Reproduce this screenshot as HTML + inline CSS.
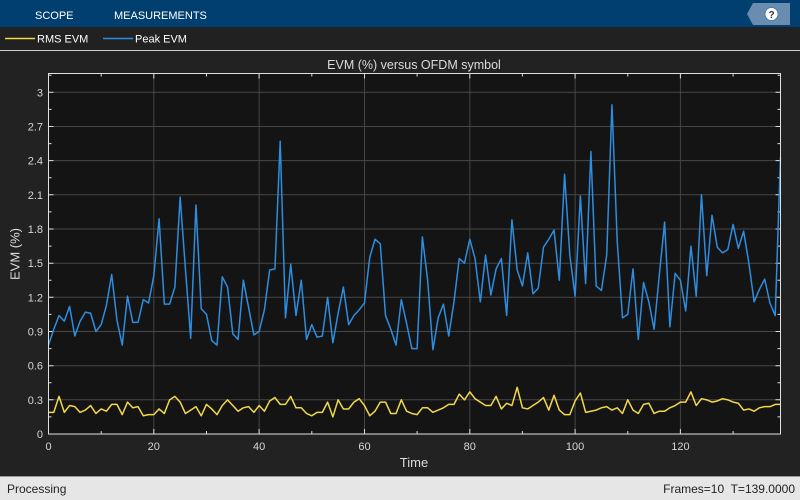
<!DOCTYPE html>
<html><head><meta charset="utf-8"><style>
html,body{margin:0;padding:0;background:#222;}
svg{display:block;font-family:"Liberation Sans",Arial,sans-serif;}
</style></head><body>
<svg width="800" height="500" viewBox="0 0 800 500" xmlns="http://www.w3.org/2000/svg">
<rect x="0" y="0" width="800" height="500" fill="#222222"/>
<rect x="0" y="0" width="800" height="27" fill="#003f6f"/>
<text x="35" y="19" font-size="11" fill="#ffffff">SCOPE</text>
<text x="114" y="19" font-size="11" fill="#ffffff">MEASUREMENTS</text>
<polygon points="747,14 753,3 790,3 790,25 753,25" fill="#6a8cae"/>
<circle cx="771.5" cy="14" r="6.5" fill="#ffffff" stroke="#3a78b8" stroke-width="0.8"/>
<text x="771.5" y="18" font-size="10" font-weight="bold" fill="#333" text-anchor="middle">?</text>
<rect x="0" y="27" width="800" height="23" fill="#212121"/>
<line x1="5" y1="38.5" x2="35" y2="38.5" stroke="#f2d84b" stroke-width="1.5"/>
<text x="37" y="42.5" font-size="11" fill="#ffffff">RMS EVM</text>
<line x1="103" y1="38.5" x2="133" y2="38.5" stroke="#2d8de0" stroke-width="1.5"/>
<text x="135" y="42.5" font-size="11" fill="#ffffff">Peak EVM</text>
<line x1="0" y1="50.5" x2="800" y2="50.5" stroke="#cfcfcf" stroke-width="1"/>
<text x="414" y="69" font-size="12.5" fill="#dcdcdc" text-anchor="middle">EVM (%) versus OFDM symbol</text>
<rect x="48.5" y="73.5" width="732" height="360.5" fill="#141414"/>
<g stroke="#464646" stroke-width="1">
<line x1="153.8" y1="73.5" x2="153.8" y2="434"/>
<line x1="259.1" y1="73.5" x2="259.1" y2="434"/>
<line x1="364.5" y1="73.5" x2="364.5" y2="434"/>
<line x1="469.8" y1="73.5" x2="469.8" y2="434"/>
<line x1="575.1" y1="73.5" x2="575.1" y2="434"/>
<line x1="680.4" y1="73.5" x2="680.4" y2="434"/>
<line x1="48.5" y1="399.8" x2="780.5" y2="399.8"/>
<line x1="48.5" y1="365.7" x2="780.5" y2="365.7"/>
<line x1="48.5" y1="331.5" x2="780.5" y2="331.5"/>
<line x1="48.5" y1="297.3" x2="780.5" y2="297.3"/>
<line x1="48.5" y1="263.2" x2="780.5" y2="263.2"/>
<line x1="48.5" y1="229.0" x2="780.5" y2="229.0"/>
<line x1="48.5" y1="194.8" x2="780.5" y2="194.8"/>
<line x1="48.5" y1="160.6" x2="780.5" y2="160.6"/>
<line x1="48.5" y1="126.5" x2="780.5" y2="126.5"/>
<line x1="48.5" y1="92.3" x2="780.5" y2="92.3"/>
</g>
<g stroke="#dddddd" stroke-width="1">
<path d="M153.8 434v-5M259.1 434v-5M364.5 434v-5M469.8 434v-5M575.1 434v-5M680.4 434v-5"/>
<path d="M101.2 434v-3M206.5 434v-3M311.8 434v-3M417.1 434v-3M522.4 434v-3M627.8 434v-3M733.1 434v-3"/>
<path d="M153.8 73.5v5M259.1 73.5v5M364.5 73.5v5M469.8 73.5v5M575.1 73.5v5M680.4 73.5v5"/>
<path d="M101.2 73.5v3M206.5 73.5v3M311.8 73.5v3M417.1 73.5v3M522.4 73.5v3M627.8 73.5v3M733.1 73.5v3"/>
<path d="M48.5 399.8h5M48.5 365.7h5M48.5 331.5h5M48.5 297.3h5M48.5 263.2h5M48.5 229h5M48.5 194.8h5M48.5 160.6h5M48.5 126.5h5M48.5 92.3h5"/>
<path d="M48.5 416.9h3M48.5 382.7h3M48.5 348.6h3M48.5 314.4h3M48.5 280.2h3M48.5 246.1h3M48.5 211.9h3M48.5 177.7h3M48.5 143.6h3M48.5 109.4h3M48.5 75.2h3"/>
<path d="M780.5 399.8h-5M780.5 365.7h-5M780.5 331.5h-5M780.5 297.3h-5M780.5 263.2h-5M780.5 229h-5M780.5 194.8h-5M780.5 160.6h-5M780.5 126.5h-5M780.5 92.3h-5"/>
<path d="M780.5 416.9h-3M780.5 382.7h-3M780.5 348.6h-3M780.5 314.4h-3M780.5 280.2h-3M780.5 246.1h-3M780.5 211.9h-3M780.5 177.7h-3M780.5 143.6h-3M780.5 109.4h-3M780.5 75.2h-3"/>
</g>
<g transform="translate(48.5,434) scale(5.266,-113.9)" fill="none" stroke-linejoin="round">
<polyline vector-effect="non-scaling-stroke" stroke="#2d8de0" stroke-width="1.5" points="0,0.78 1,0.92 2,1.04 3,0.99 4,1.12 5,0.86 6,0.99 7,1.07 8,1.06 9,0.90 10,0.96 11,1.13 12,1.40 13,1.00 14,0.78 15,1.21 16,0.98 17,0.98 18,1.18 19,1.15 20,1.39 21,1.89 22,1.14 23,1.14 24,1.29 25,2.08 26,1.45 27,0.84 28,2.01 29,1.10 30,1.05 31,0.82 32,0.78 33,1.38 34,1.29 35,0.88 36,0.83 37,1.35 38,1.11 39,0.87 40,0.90 41,1.09 42,1.44 43,1.45 44,2.57 45,1.02 46,1.49 47,1.04 48,1.35 49,0.83 50,0.96 51,0.85 52,0.86 53,1.20 54,0.80 55,1.06 56,1.29 57,0.96 58,1.04 59,1.09 60,1.15 61,1.55 62,1.71 63,1.67 64,1.04 65,0.92 66,0.78 67,1.18 68,0.97 69,0.75 70,0.75 71,1.73 72,1.35 73,0.74 74,1.02 75,1.14 76,0.86 77,1.16 78,1.54 79,1.50 80,1.71 81,1.54 82,1.16 83,1.57 84,1.22 85,1.45 86,1.54 87,1.04 88,1.88 89,1.44 90,1.30 91,1.59 92,1.23 93,1.28 94,1.64 95,1.71 96,1.79 97,1.35 98,2.28 99,1.57 100,1.21 101,2.09 102,1.32 103,2.48 104,1.30 105,1.26 106,1.57 107,2.89 108,1.69 109,1.02 110,1.05 111,1.45 112,0.83 113,1.33 114,1.16 115,0.92 116,1.40 117,1.86 118,0.94 119,1.41 120,1.35 121,1.08 122,1.65 123,1.21 124,2.10 125,1.39 126,1.92 127,1.64 128,1.59 129,1.62 130,1.84 131,1.63 132,1.78 133,1.50 134,1.16 135,1.27 136,1.36 137,1.15 138,1.04 139,2.43"/>
<polyline vector-effect="non-scaling-stroke" stroke="#f2d84b" stroke-width="1.5" points="0,.19 1,.19 2,.33 3,.19 4,.25 5,.24 6,.19 7,.21 8,.25 9,.18 10,.22 11,.20 12,.26 13,.26 14,.17 15,.28 16,.23 17,.24 18,.16 19,.17 20,.17 21,.22 22,.18 23,.30 24,.33 25,.28 26,.18 27,.21 28,.24 29,.16 30,.26 31,.22 32,.17 33,.25 34,.30 35,.25 36,.20 37,.23 38,.24 39,.19 40,.25 41,.20 42,.29 43,.32 44,.26 45,.26 46,.33 47,.23 48,.23 49,.18 50,.16 51,.19 52,.19 53,.28 54,.15 55,.30 56,.22 57,.22 58,.28 59,.31 60,.25 61,.16 62,.20 63,.28 64,.28 65,.18 66,.18 67,.30 68,.20 69,.18 70,.17 71,.23 72,.23 73,.19 74,.21 75,.23 76,.26 77,.26 78,.35 79,.30 80,.37 81,.31 82,.28 83,.25 84,.25 85,.33 86,.22 87,.27 88,.25 89,.41 90,.23 91,.22 92,.25 93,.28 94,.32 95,.21 96,.34 97,.21 98,.17 99,.17 100,.29 101,.36 102,.19 103,.20 104,.21 105,.23 106,.24 107,.21 108,.23 109,.18 110,.30 111,.21 112,.18 113,.26 114,.27 115,.18 116,.20 117,.20 118,.23 119,.25 120,.28 121,.28 122,.37 123,.25 124,.31 125,.30 126,.28 127,.29 128,.31 129,.30 130,.28 131,.27 132,.21 133,.22 134,.20 135,.23 136,.24 137,.24 138,.26 139,.26"/>
</g>
<rect x="48.5" y="73.5" width="732" height="360.5" fill="none" stroke="#e0e0e0" stroke-width="1"/>
<g font-size="11" fill="#d6d6d6" text-anchor="end">
<text x="43" y="438">0</text>
<text x="43" y="403.8">0.3</text>
<text x="43" y="369.7">0.6</text>
<text x="43" y="335.5">0.9</text>
<text x="43" y="301.3">1.2</text>
<text x="43" y="267.2">1.5</text>
<text x="43" y="233">1.8</text>
<text x="43" y="198.8">2.1</text>
<text x="43" y="164.6">2.4</text>
<text x="43" y="130.5">2.7</text>
<text x="43" y="96.3">3</text>
</g>
<g font-size="11" fill="#d6d6d6" text-anchor="middle">
<text x="48.5" y="450">0</text>
<text x="153.8" y="450">20</text>
<text x="259.1" y="450">40</text>
<text x="364.5" y="450">60</text>
<text x="469.8" y="450">80</text>
<text x="575.1" y="450">100</text>
<text x="680.4" y="450">120</text>
</g>
<text x="414" y="467" font-size="13" fill="#dcdcdc" text-anchor="middle">Time</text>
<text x="0" y="0" font-size="13" fill="#dcdcdc" text-anchor="middle" transform="translate(19.5,254) rotate(-90)">EVM (%)</text>
<rect x="0" y="476.5" width="800" height="23.5" fill="#e6e6e6"/>
<line x1="0" y1="476.5" x2="800" y2="476.5" stroke="#9a9a9a" stroke-width="1"/>
<text x="7" y="493" font-size="12" fill="#222">Processing</text>
<text x="795" y="493" font-size="12" fill="#222" text-anchor="end" xml:space="preserve" style="white-space:pre">Frames=10  T=139.0000</text>
</svg>
</body></html>
